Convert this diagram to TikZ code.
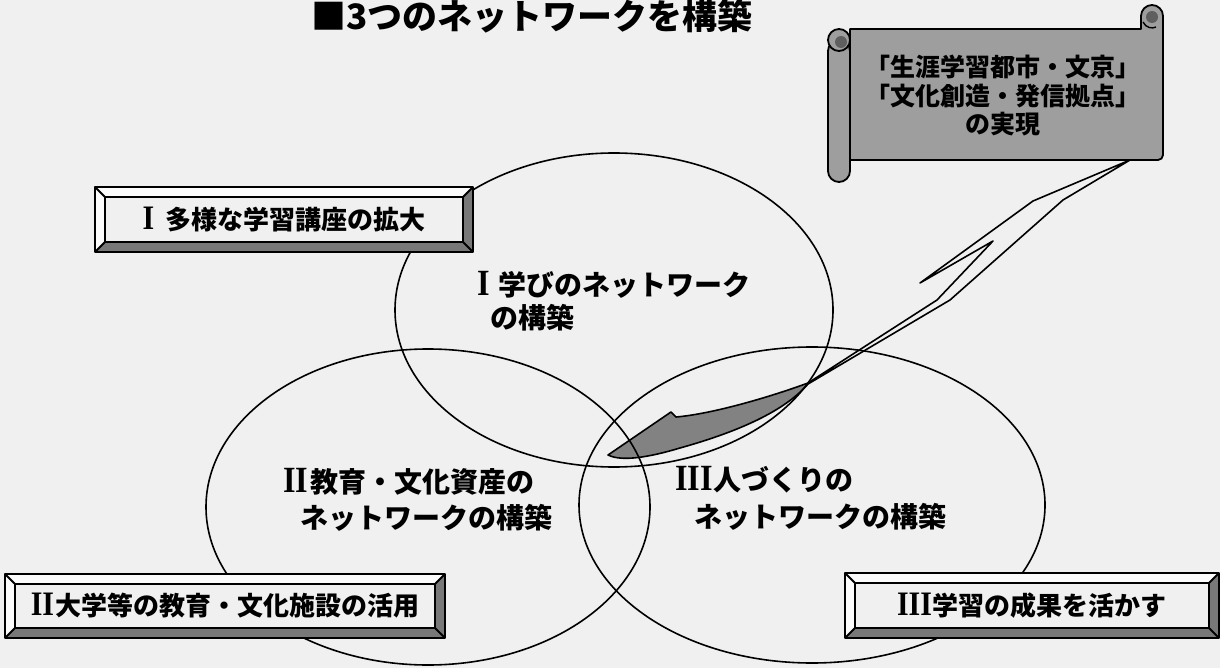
\documentclass[tikz,border=0pt]{standalone}
\usepackage{fontspec}
\usepackage{graphicx}
\setmainfont{Noto Sans CJK JP}[BoldFont={Noto Sans CJK JP Black}]
\newfontfamily\romfont{Liberation Serif}
\usetikzlibrary{shapes.geometric}
\definecolor{bg}{RGB}{240,240,240}
\definecolor{scrollgray}{RGB}{158,158,158}
\definecolor{rolldark}{RGB}{95,95,95}
\definecolor{ribbondark}{RGB}{130,130,130}
\definecolor{bevlight}{RGB}{252,252,252}
\definecolor{bevdark}{RGB}{120,120,120}
\newcommand\RN[1]{\scalebox{1.15}[1.32]{\romfont\bfseries #1}}
\tikzset{
  netcirc/.style={ellipse, draw, line width=1.6pt, inner sep=0pt},
  circtext/.style={anchor=west, inner sep=0pt, font=\bfseries\fontsize{28}{32}\selectfont},
  boxtext/.style={draw, line width=1.8pt, fill=bg, inner sep=0pt, font=\bfseries\fontsize{26}{30}\selectfont},
  bevline/.style={line width=1.8pt},
  scrollsty/.style={fill=scrollgray, draw, line width=1.8pt},
  scrolltext/.style={align=center, inner sep=0pt, font=\bfseries\fontsize{25}{28.5}\selectfont},
  titletext/.style={inner sep=0pt, font=\bfseries\fontsize{35}{40}\selectfont},
  ribbonline/.style={draw, line width=1.6pt, line join=round},
  ribbonfill/.style={fill=ribbondark, draw, line width=1.6pt, line join=round}
}
\newcommand\bevelbox[6]{%
  \fill[bevlight] (#2,#3) -- (#4,#3) -- ({#4-10},{#3+10}) -- ({#2+10},{#3+10}) -- ({#2+10},{#5-10}) -- (#2,#5) -- cycle;
  \fill[bevdark] (#4,#3) -- (#4,#5) -- (#2,#5) -- ({#2+10},{#5-10}) -- ({#4-10},{#5-10}) -- ({#4-10},{#3+10}) -- cycle;
  \draw[bevline] (#2,#3) -- ({#2+10},{#3+10}) (#4,#3) -- ({#4-10},{#3+10}) (#2,#5) -- ({#2+10},{#5-10}) (#4,#5) -- ({#4-10},{#5-10});
  \draw[bevline] (#2,#3) rectangle (#4,#5);
  \node[boxtext, minimum width={#4-#2-20}, minimum height={#5-#3-20}] (#1) at ({(#2+#4)/2},{(#3+#5)/2}) {#6};
}
\begin{document}
\begin{tikzpicture}[x=1pt,y=-1pt,line join=round]
\useasboundingbox (0,0) rectangle (1220,668);
\fill[bg] (0,0) rectangle (1220,668);
\clip (0,0) rectangle (1220,668);

% title
\node[titletext] (title) at (532,16) {■3つのネットワークを構築};

% dark part of ribbon (under circles)
\path[ribbonfill] (808,383) .. controls (770,397) and (712,414) .. (676,417) -- (671,412) -- (608,455)
  .. controls (622,462) and (650,457) .. (680,448) .. controls (730,434) and (782,414) .. (808,384) -- cycle;

% three circles
\node[netcirc, minimum width=438pt, minimum height=314pt] (c1) at (614,310) {};
\node[netcirc, minimum width=444pt, minimum height=316pt] (c2) at (428,507) {};
\node[netcirc, minimum width=466pt, minimum height=316pt] (c3) at (812,505) {};

% ribbon from the scroll
\coordinate (rtip) at (1130,160);
\path[ribbonline] (rtip) -- (1033,201) -- (920,283) -- (993,241) -- (937,300) -- (808,383)
  (rtip) -- (1063,200) -- (950,300) -- (808,384);

% circle texts
\node[circtext] (t1a) at (477,285) {\RN{I}\hspace{9pt}学びのネットワーク};
\node[circtext] (t1b) at (490,318) {の構築};
\node[circtext] (t2a) at (283,482) {\RN{II}\hspace{2pt}教育・文化資産の};
\node[circtext] (t2b) at (300,518) {ネットワークの構築};
\node[circtext] (t3a) at (675,480) {\RN{III}\hspace{1pt}人づくりの};
\node[circtext] (t3b) at (694,517) {ネットワークの構築};

% bevel boxes
\bevelbox{b1}{95}{187}{473}{252}{\RN{I}\hspace{11pt}多様な学習講座の拡大}
\bevelbox{b2}{5}{574}{445}{638}{\RN{II}\hspace{1pt}大学等の教育・文化施設の活用}
\bevelbox{b3}{845}{573}{1219}{638}{\RN{III}\hspace{1pt}学習の成果を活かす}

% scroll
\path[scrollsty] (850,29) -- (1141,29) [rounded corners=11pt] -- (1141,5) -- (1163,5) [rounded corners=5pt] -- (1163,160) [sharp corners] -- (850,160) -- cycle;
\path[scrollsty, rounded corners=11pt] (828,40) rectangle (850,182);
\path[scrollsty] (839,40) circle[radius=11pt];
\fill[rolldark] (841,42) circle[radius=6pt];
\fill[rolldark] (1152,17) circle[radius=6pt];
\draw[line width=1.4pt] (1143,22) .. controls (1146,28) and (1152,29) .. (1156,27);
\node[scrolltext] (st) at (1003,96) {「生涯学習都市・文京」\\「文化創造・発信拠点」\\の実現};
\end{tikzpicture}
\end{document}
